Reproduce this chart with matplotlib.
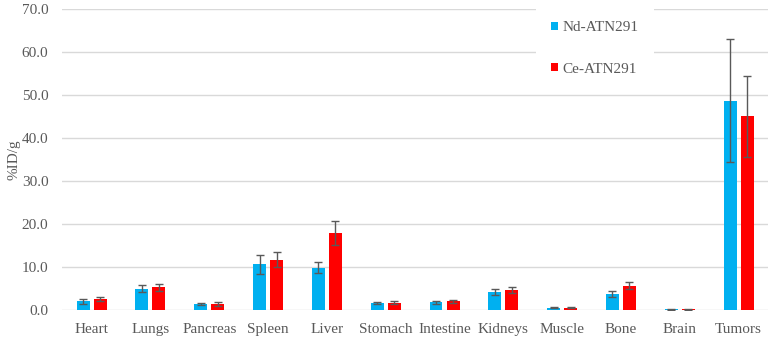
import matplotlib
matplotlib.use("Agg")
import matplotlib.pyplot as plt
import numpy as np

categories = ["Heart", "Lungs", "Pancreas", "Spleen", "Liver", "Stomach",
              "Intestine", "Kidneys", "Muscle", "Bone", "Brain", "Tumors"]
nd_values = [2.0, 5.0, 1.4, 10.6, 9.8, 1.6, 1.8, 4.2, 0.5, 3.8, 0.2, 48.7]
nd_errors = [0.5, 0.9, 0.3, 2.2, 1.3, 0.3, 0.3, 0.8, 0.1, 0.7, 0.1, 14.3]
ce_values = [2.5, 5.3, 1.4, 11.7, 17.9, 1.7, 2.0, 4.7, 0.5, 5.7, 0.2, 45.1]
ce_errors = [0.5, 0.8, 0.4, 1.8, 2.8, 0.4, 0.4, 0.7, 0.1, 0.8, 0.1, 9.4]
series_labels = ["Nd-ATN291", "Ce-ATN291"]
yticks = [0, 10, 20, 30, 40, 50, 60, 70]

plt.rcParams['font.family'] = ['Liberation Serif', 'DejaVu Serif']

fig = plt.figure(figsize=(7.68, 3.37), dpi=100)
ax = fig.add_axes([0.081, 0.08, 0.919, 0.893])

x = np.arange(len(categories))
w = 0.22
off = 0.145
err_kw = dict(ecolor="#595959", elinewidth=1.0, capsize=3, capthick=1.0)
ax.bar(x - off, nd_values, w, yerr=nd_errors, color="#00B0F0",
       label=series_labels[0], error_kw=err_kw, zorder=3)
ax.bar(x + off, ce_values, w, yerr=ce_errors, color="#FF0000",
       label=series_labels[1], error_kw=err_kw, zorder=3)

fs = 11
ax.set_xlim(-0.5, len(categories) - 0.5)
ax.set_ylim(0, 70)
ax.set_yticks(yticks)
ax.set_yticklabels([f"{v:.1f}" for v in yticks], fontsize=fs, color="#595959")
ax.set_xticks(x)
ax.set_xticklabels(categories, fontsize=fs, color="#595959")
ax.tick_params(axis="x", length=0, pad=9)
ax.tick_params(axis="y", length=0, pad=10)
ax.yaxis.grid(True, color="#D9D9D9", linewidth=1.0, zorder=0)
ax.set_axisbelow(True)
for s in ax.spines.values():
    s.set_visible(False)
ax.set_ylabel("%ID/g", fontsize=fs, color="#595959", labelpad=1)

leg = ax.legend(loc="upper right", bbox_to_anchor=(0.838, 1.01), frameon=True,
                fontsize=fs, handlelength=0.45, handleheight=0.45,
                handletextpad=0.3, labelspacing=1.85, borderpad=1.0,
                borderaxespad=0.0, fancybox=False)
leg.get_frame().set_facecolor("white")
leg.get_frame().set_edgecolor("none")
leg.get_frame().set_alpha(1.0)
leg.set_zorder(5)
for t in leg.get_texts():
    t.set_color("#595959")

fig.savefig("out.png", dpi=100)
